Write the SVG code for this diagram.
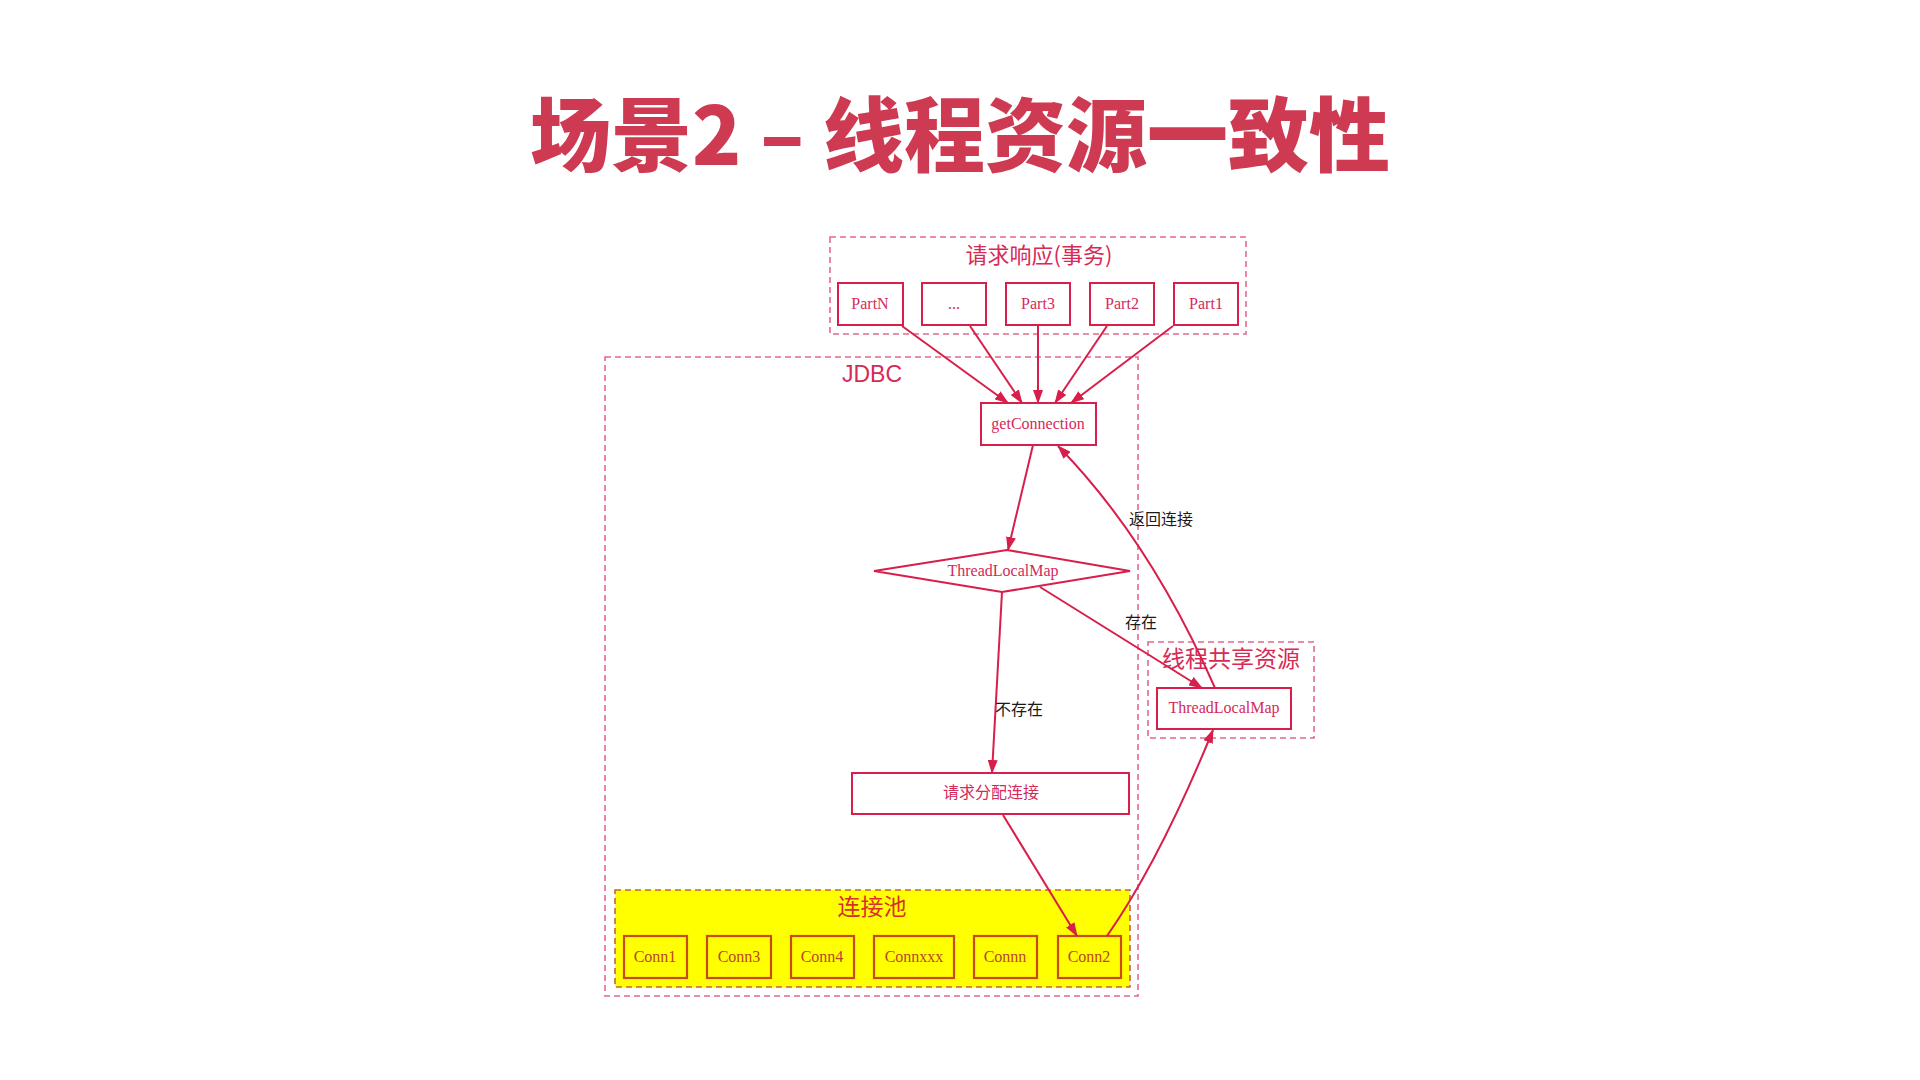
<svg xmlns="http://www.w3.org/2000/svg" width="1920" height="1080" viewBox="0 0 1920 1080">
<style>
.title{font-family:"Noto Sans CJK SC","Liberation Sans",sans-serif;font-weight:900;font-size:81px;fill:#cf3a53}
.grp{fill:none;stroke:#e26a8d;stroke-width:1.6;stroke-dasharray:6 4}
.glabel{font-family:"Noto Sans CJK SC","Liberation Sans",sans-serif;font-size:22px;fill:#d72a55;text-anchor:middle}
.box{fill:#fff;stroke:#d81e4a;stroke-width:2}
.ntext{font-family:"Liberation Serif","Noto Sans CJK SC",serif;font-size:16px;fill:#d42a5a;text-anchor:middle}
.pool{fill:#ffff00;stroke:#c8642e;stroke-width:1.6;stroke-dasharray:6 4}
.cbox{fill:#ffff00;stroke:#c84a1e;stroke-width:2.2}
.ctext{font-family:"Liberation Serif",serif;font-size:16px;fill:#b8462a;text-anchor:middle}
.edge{fill:none;stroke:#d81e4a;stroke-width:2;marker-end:url(#arr)}
.elabel{font-family:"Liberation Serif","Noto Sans CJK SC",serif;font-size:16px;fill:#1a1a1a}
</style>
<defs>
<marker id="arr" markerUnits="userSpaceOnUse" markerWidth="14" markerHeight="10" refX="13" refY="5" orient="auto">
<path d="M0,0 L14,5 L0,10 z" fill="#d81e4a"/>
</marker>
</defs>
<rect width="1920" height="1080" fill="#fff"/>
<text class="title" x="960" y="165" text-anchor="middle">场景2 – 线程资源一致性</text>

<g id="group-request">
<rect class="grp" x="830" y="237" width="416" height="97"/>
<text class="glabel" x="1039" y="263">请求响应(事务)</text>
</g>
<g id="group-jdbc">
<rect class="grp" x="605" y="357" width="533" height="639"/>
<text x="872" y="382" style="font-family:'Liberation Sans',sans-serif;font-size:23px;fill:#d72a55;text-anchor:middle">JDBC</text>
</g>
<g id="group-shared">
<rect class="grp" x="1148" y="642" width="166" height="96"/>
<text class="glabel" x="1231" y="667" style="font-size:23px">线程共享资源</text>
</g>
<g id="group-pool">
<rect class="pool" x="615" y="890" width="515" height="97"/>
<text x="872" y="915" style="font-family:'Noto Sans CJK SC',sans-serif;font-size:23px;fill:#d8302a;text-anchor:middle">连接池</text>
</g>

<g id="partN"><rect class="box" x="838" y="283" width="65" height="42"/><text class="ntext" x="870" y="309">PartN</text></g>
<g id="partDots"><rect class="box" x="922" y="283" width="64" height="42"/><text class="ntext" x="954" y="309">...</text></g>
<g id="part3"><rect class="box" x="1006" y="283" width="64" height="42"/><text class="ntext" x="1038" y="309">Part3</text></g>
<g id="part2"><rect class="box" x="1090" y="283" width="64" height="42"/><text class="ntext" x="1122" y="309">Part2</text></g>
<g id="part1"><rect class="box" x="1174" y="283" width="64" height="42"/><text class="ntext" x="1206" y="309">Part1</text></g>

<g id="getConnection"><rect class="box" x="981" y="403" width="115" height="42"/><text class="ntext" x="1038" y="429">getConnection</text></g>
<g id="threadLocalMap-check"><polygon class="box" points="874,571 1007,550 1130,571 1002,592"/><text class="ntext" x="1003" y="576">ThreadLocalMap</text></g>
<g id="allocate"><rect class="box" x="852" y="773" width="277" height="41"/><text class="ntext" x="991" y="798">请求分配连接</text></g>
<g id="threadLocalMap-shared"><rect class="box" x="1157" y="688" width="134" height="41"/><text class="ntext" x="1224" y="713">ThreadLocalMap</text></g>

<g id="conn1"><rect class="cbox" x="624" y="936" width="63" height="42"/><text class="ctext" x="655" y="962">Conn1</text></g>
<g id="conn3"><rect class="cbox" x="707" y="936" width="64" height="42"/><text class="ctext" x="739" y="962">Conn3</text></g>
<g id="conn4"><rect class="cbox" x="791" y="936" width="63" height="42"/><text class="ctext" x="822" y="962">Conn4</text></g>
<g id="connxxx"><rect class="cbox" x="874" y="936" width="80" height="42"/><text class="ctext" x="914" y="962">Connxxx</text></g>
<g id="connn"><rect class="cbox" x="974" y="936" width="63" height="42"/><text class="ctext" x="1005" y="962">Connn</text></g>
<g id="conn2"><rect class="cbox" x="1058" y="936" width="63" height="42"/><text class="ctext" x="1089" y="962">Conn2</text></g>

<g id="connectors">
<path class="edge" d="M902,326 L1008,403"/>
<path class="edge" d="M970,326 L1022,403"/>
<path class="edge" d="M1038,326 L1038,403"/>
<path class="edge" d="M1107,326 L1055,403"/>
<path class="edge" d="M1173,326 L1071,403"/>
<path class="edge" d="M1033,445 L1008,550"/>
<path class="edge" d="M1002,592 L992,773"/>
<path class="edge" d="M1040,587 L1202,688"/>
<path class="edge" d="M1003,815 L1077,936"/>
<path class="edge" d="M1107,936 Q1160,860 1213,730"/>
<path class="edge" d="M1215,688 Q1150,540 1058,446"/>
<text class="elabel" x="1129" y="525">返回连接</text>
<text class="elabel" x="1125" y="628">存在</text>
<text class="elabel" x="995" y="715">不存在</text>
</g>
</svg>
